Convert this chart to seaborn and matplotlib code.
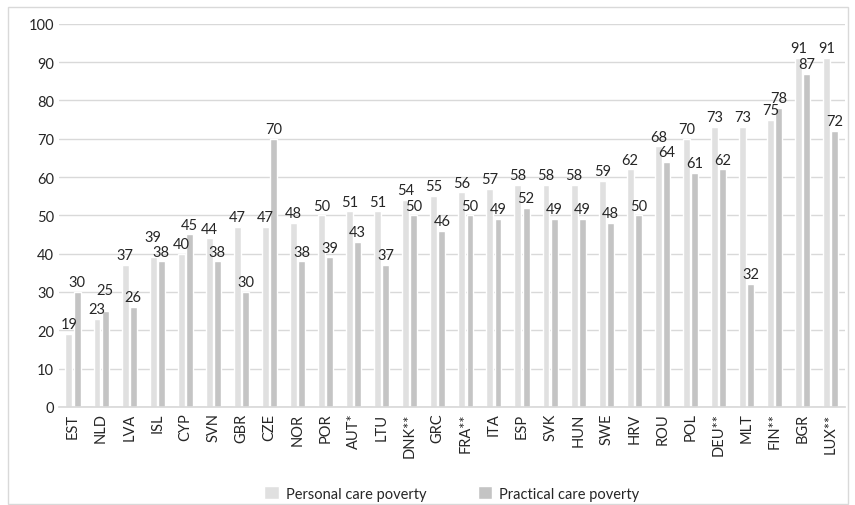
import matplotlib
matplotlib.use("Agg")
import matplotlib.pyplot as plt
import seaborn as sns
import pandas as pd
from matplotlib.patches import Rectangle

countries = ["EST", "NLD", "LVA", "ISL", "CYP", "SVN", "GBR", "CZE", "NOR", "POR",
             "AUT*", "LTU", "DNK**", "GRC", "FRA**", "ITA", "ESP", "SVK", "HUN", "SWE",
             "HRV", "ROU", "POL", "DEU**", "MLT", "FIN**", "BGR", "LUX**"]
personal = [19, 23, 37, 39, 40, 44, 47, 47, 48, 50,
            51, 51, 54, 55, 56, 57, 58, 58, 58, 59,
            62, 68, 70, 73, 73, 75, 91, 91]
practical = [30, 25, 26, 38, 45, 38, 30, 70, 38, 39,
             43, 37, 50, 46, 50, 49, 52, 49, 49, 48,
             50, 64, 61, 62, 32, 78, 87, 72]
series = ["Personal care poverty", "Practical care poverty"]
yticks = [0, 10, 20, 30, 40, 50, 60, 70, 80, 90, 100]

df = pd.DataFrame({
    "country": countries * 2,
    "value": personal + practical,
    "series": [series[0]] * len(countries) + [series[1]] * len(countries),
})

sns.set_theme(style="white")
plt.rcParams["font.family"] = ["Lato", "DejaVu Sans"]

fig = plt.figure(figsize=(8.55, 5.06), dpi=100)
ax = fig.add_axes([0.069, 0.194, 0.919, 0.757])

sns.barplot(data=df, x="country", y="value", hue="series", order=countries,
            hue_order=series, palette=["#e0e0e0", "#c4c4c4"],
            width=0.58, gap=0.15, ax=ax, legend=True)

# value labels; when the two bars of a country are nearly equal,
# lift the taller one's label so the pair does not collide
values = [personal, practical]
for k, cont in enumerate(ax.containers):
    own, other = values[k], values[1 - k]
    for i, bar in enumerate(cont.patches):
        v = own[i]
        pad = 2
        if abs(v - other[i]) < 3 and v > other[i]:
            pad += 8
        ax.annotate(f"{v:d}", (bar.get_x() + bar.get_width() / 2, bar.get_height()),
                    xytext=(0, pad), textcoords="offset points",
                    ha="center", va="bottom", fontsize=10.5, color="#262626")

ax.set_ylim(0, 100)
ax.set_yticks(yticks)
ax.set_xlim(-0.5, len(countries) - 0.5)
ax.yaxis.grid(True, color="#d9d9d9", linewidth=1)
ax.set_axisbelow(True)
for s in ["top", "right", "left"]:
    ax.spines[s].set_visible(False)
ax.spines["bottom"].set_color("#d9d9d9")
ax.tick_params(axis="both", length=0, labelsize=10.5, colors="#262626")
ax.tick_params(axis="x", rotation=90, pad=4)
ax.set_xlabel("")
ax.set_ylabel("")

leg = ax.legend(loc="lower center", bbox_to_anchor=(0.5, -0.28), ncol=2,
                frameon=False, fontsize=10.5, handlelength=1.0, handleheight=1.0,
                columnspacing=3.5, handletextpad=0.5)
for t in leg.get_texts():
    t.set_color("#262626")

fig.patches.append(Rectangle((8 / 855, 0.002), 840 / 855, 1 - 8 / 506 - 0.002,
                             transform=fig.transFigure, fill=False,
                             edgecolor="#d9d9d9", linewidth=1))

fig.savefig("out.png", dpi=100)
